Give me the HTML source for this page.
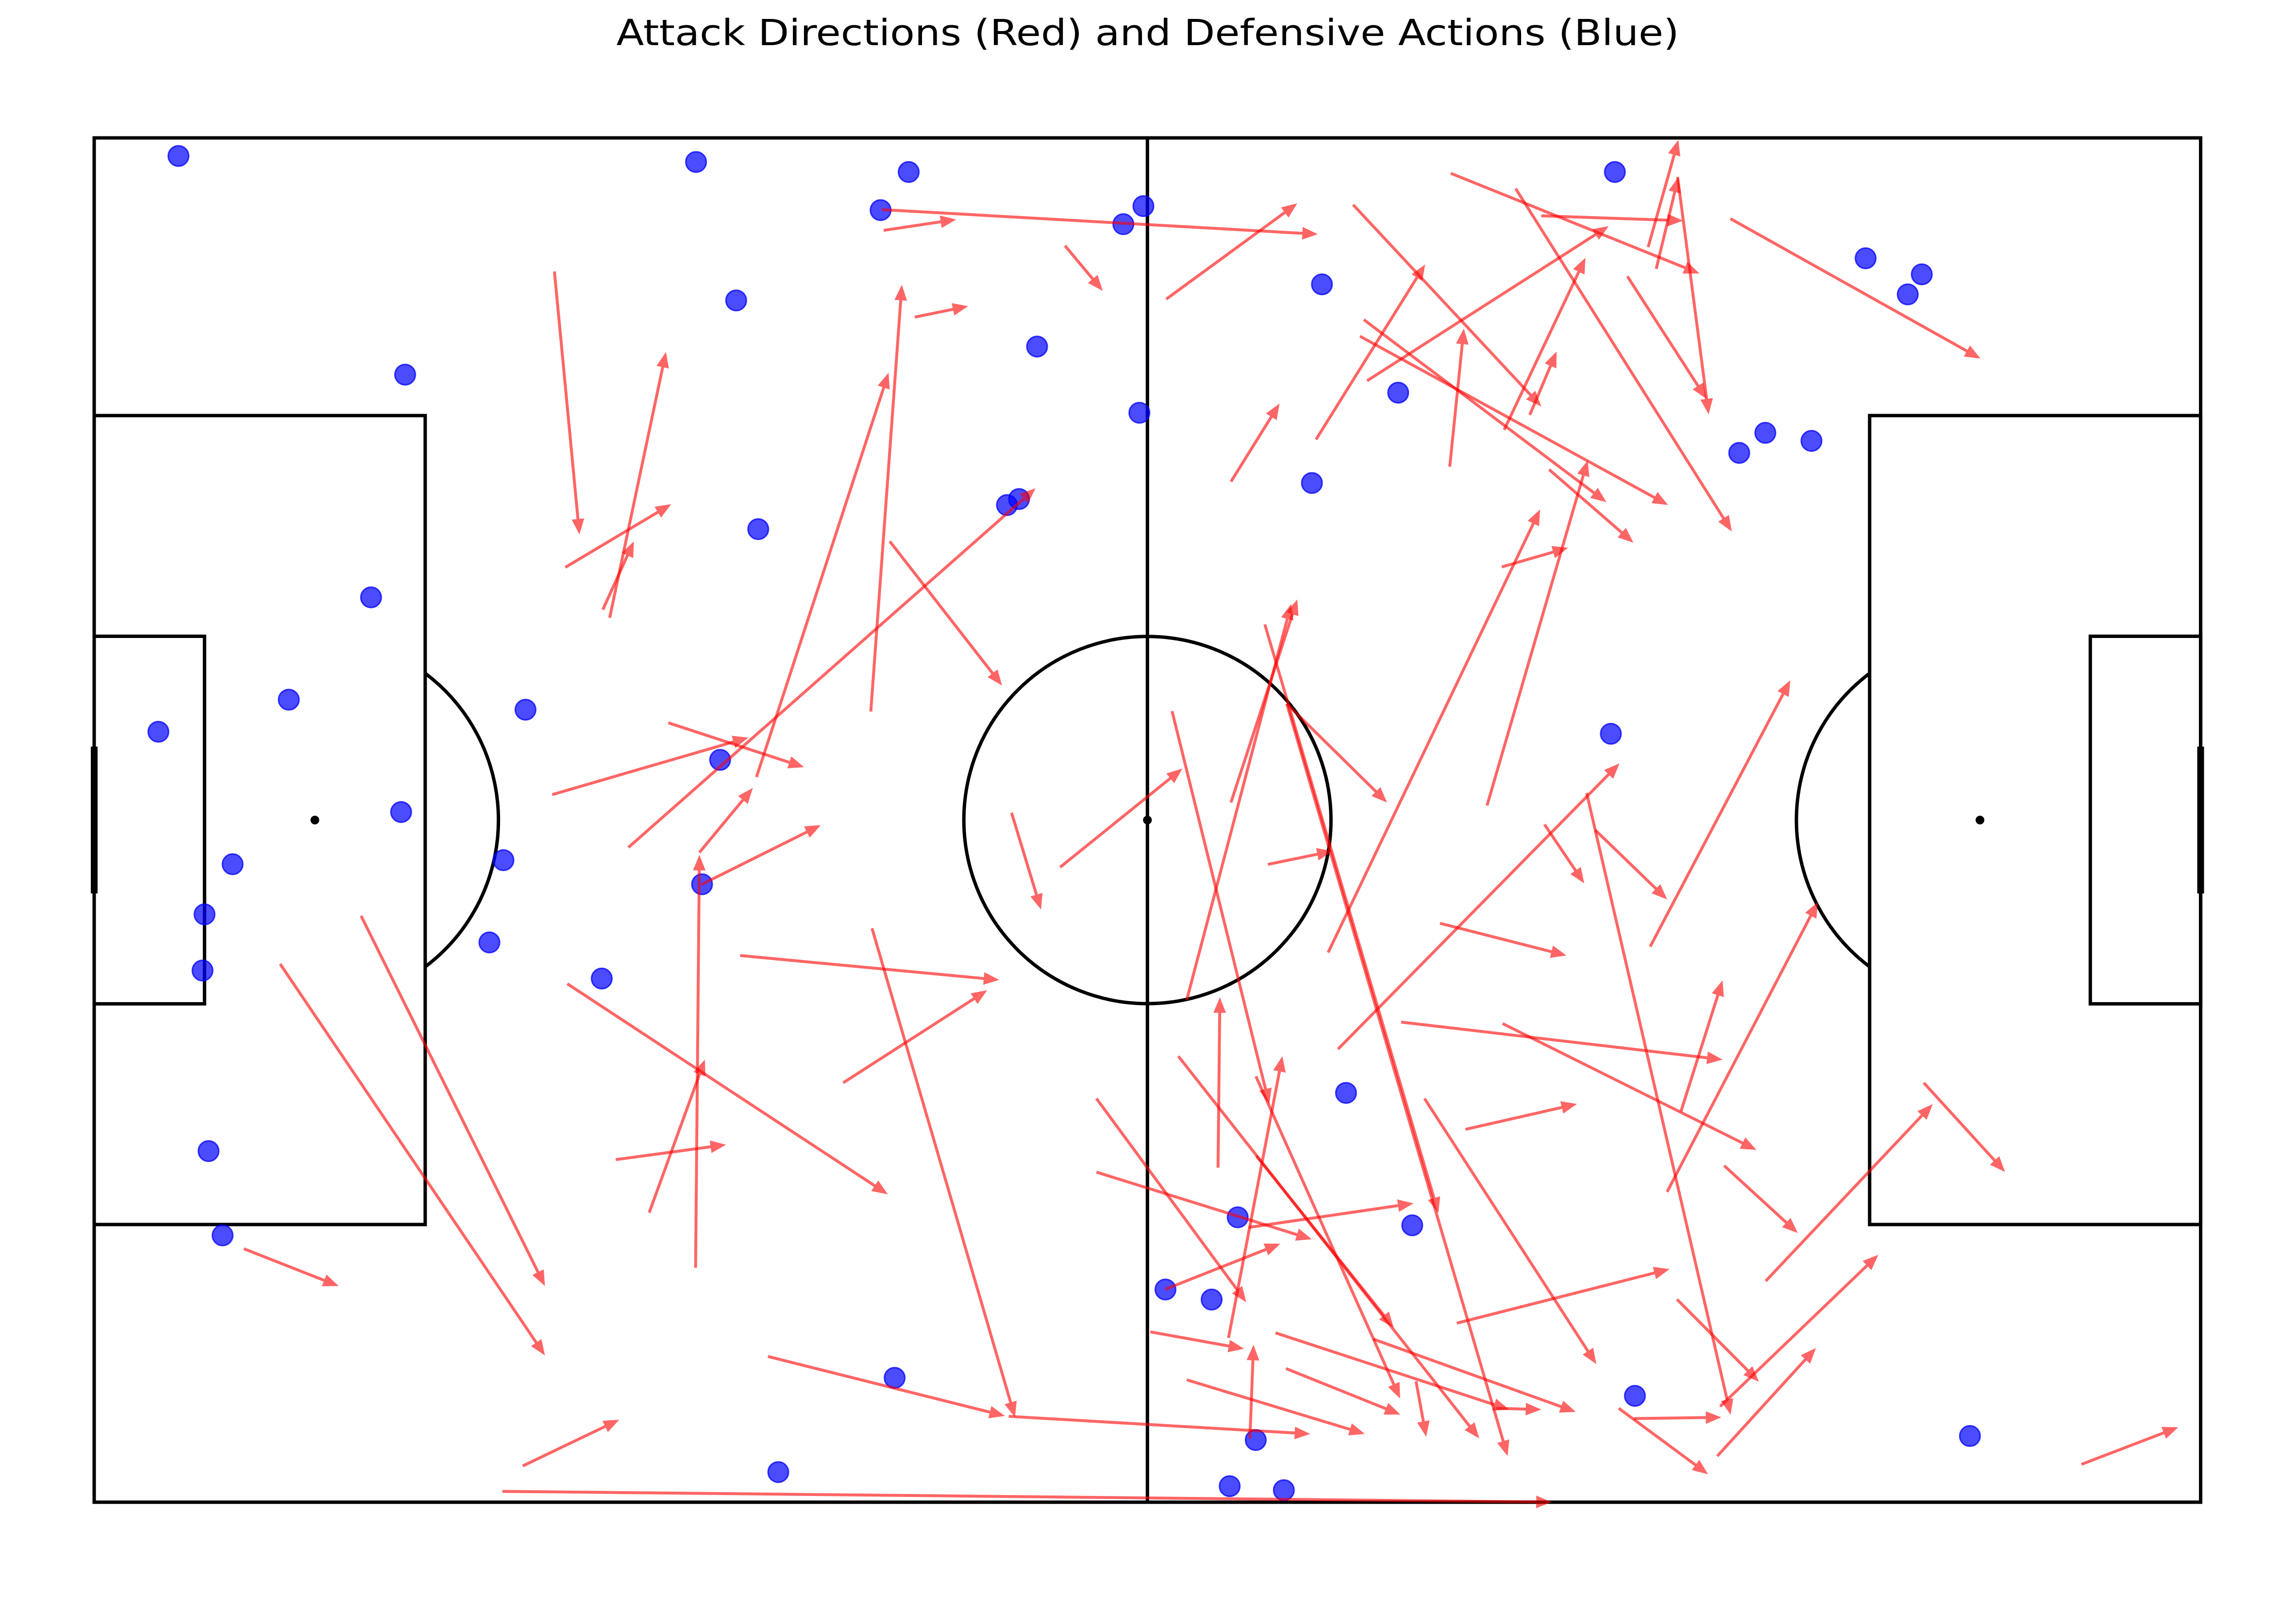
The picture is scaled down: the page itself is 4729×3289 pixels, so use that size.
<!DOCTYPE html>
<html><head><meta charset="utf-8"><style>
html,body{margin:0;padding:0;background:#fff;}
svg{display:block;}
</style></head>
<body>
<svg id="chart" xmlns="http://www.w3.org/2000/svg" width="4729" height="3289" viewBox="0 0 4729 3289">
<rect width="4729" height="3289" fill="#fff"/>
<text x="2364" y="93" text-anchor="middle" font-family="DejaVu Sans, Liberation Sans, sans-serif" font-size="74" textLength="2189" lengthAdjust="spacingAndGlyphs" fill="#000">Attack Directions (Red) and Defensive Actions (Blue)</text>
<g id="pitch" fill="none" stroke="#000" stroke-width="7"></g>
<g id="dots"></g>
<g id="arrows"></g>
</svg>
<script>
// Defensive actions (pitch metres, 105 x 68, y from top touchline)
const defX = [4.2,30.0,40.6,39.2,51.3,52.3,75.8,32.0,15.5,47.0,88.3,91.1,90.4,52.1,61.2,65.0,82.0,83.3,85.6,60.7,45.5,46.1,33.1,13.8,9.7,3.2,21.5,31.2,75.6,15.3,6.9,20.4,30.3,5.5,19.7,5.4,25.3,62.4,5.7,6.4,57.0,65.7,53.4,55.7,39.9,76.8,57.9,34.1,56.6,59.3,93.5];
const defY = [0.9,1.2,1.7,3.6,4.3,3.4,1.7,8.1,11.8,10.4,6.0,6.8,7.8,13.7,7.3,12.7,15.7,14.7,15.1,17.2,18.3,18.0,19.5,22.9,28.0,29.6,28.5,31.0,29.7,33.6,36.2,36.0,37.2,38.7,40.1,41.5,41.9,47.6,50.5,54.7,53.8,54.2,57.4,57.9,61.8,62.7,64.9,66.5,67.2,67.4,64.7];
// Attack directions: start and end (metres)
const atkX1 = [22.80,25.54,25.20,23.34,39.13,39.03,40.67,48.12,38.49,53.14,62.41,67.25,71.74,77.04,77.44,78.50,76.01,70.47,81.12,63.10,60.57,69.90,71.17,67.20,62.75,62.94,72.13,56.35,69.05,69.78,61.17,56.35,54.16,58.03,59.12,59.12,53.43,47.88,45.47,58.18,39.43,32.82,26.47,22.69,28.45,29.99,30.09,29.80,27.50,25.84,23.44,32.01,37.12,38.55,33.39,45.33,21.23,20.22,7.40,9.20,13.21,55.71,53.74,57.61,49.68,49.68,53.09,56.23,57.29,52.35,57.24,54.16,59.08,58.56,63.41,69.49,65.53,65.95,67.55,67.98,61.66,64.79,69.82,75.58,76.34,73.99,74.42,77.14,71.90,78.67,77.98,80.81,82.87,90.71,78.47,80.61,80.47,98.53,66.72,57.59];
const atkY1 = [6.59,23.76,23.36,21.26,4.55,3.52,8.85,5.31,28.41,7.96,3.28,1.72,3.83,5.38,6.46,1.90,6.83,2.48,3.97,12.01,14.92,14.44,13.70,16.27,9.80,8.98,16.41,17.01,33.07,21.24,40.36,32.92,42.70,24.09,28.03,28.03,28.39,36.13,33.43,35.99,19.97,31.66,35.15,32.53,28.97,35.40,36.99,55.99,53.26,50.63,41.91,40.51,46.82,39.16,60.39,63.36,65.82,67.08,55.05,40.93,38.54,51.03,45.50,50.44,47.60,51.25,57.06,59.47,64.45,59.17,53.99,61.55,60.99,59.22,59.53,62.96,61.62,47.60,58.74,49.13,45.15,43.81,43.88,62.96,63.47,32.45,34.29,40.07,34.01,48.23,52.23,50.93,56.65,46.82,57.56,62.87,65.33,65.74,38.91,46.50];
const atkX2 = [24.04,28.33,26.74,28.59,42.72,60.66,43.32,49.99,40.03,59.64,71.74,79.58,78.77,78.54,78.54,80.04,79.93,81.19,93.52,75.08,65.98,73.93,72.50,67.90,78.03,74.97,76.31,58.76,74.04,73.07,71.68,59.64,59.34,66.64,64.09,70.07,58.25,53.94,46.93,61.39,45.00,39.37,46.66,32.42,35.18,32.64,36.01,29.99,30.26,31.31,39.33,44.86,44.26,45.64,45.14,60.28,26.01,72.26,12.10,22.33,22.33,55.80,68.66,64.42,57.11,60.36,58.80,58.90,57.47,57.00,65.40,62.99,64.75,70.14,73.45,71.74,66.03,74.47,78.10,73.51,75.62,80.73,82.41,80.01,80.67,81.13,77.98,84.09,73.87,80.73,85.46,84.46,91.15,94.74,82.53,88.45,85.36,103.33,72.99,64.74];
const atkY2 = [19.63,10.58,19.97,18.13,4.01,4.74,8.31,7.55,7.25,3.21,13.28,6.69,4.07,0.06,1.90,13.67,12.91,19.48,10.91,4.34,6.24,5.91,10.56,9.42,18.17,18.03,20.04,13.14,15.96,20.29,18.39,22.85,23.07,53.28,32.92,65.33,47.88,31.24,38.23,35.33,27.12,11.61,17.34,29.70,31.17,32.20,34.04,35.52,45.67,49.89,52.35,41.72,42.23,63.41,63.34,64.23,63.53,67.61,56.90,60.34,56.90,42.58,64.45,58.96,57.70,54.58,54.80,45.50,59.81,60.01,52.80,64.23,63.27,63.02,63.14,63.02,64.37,60.77,56.06,47.87,30.98,45.67,50.15,66.23,63.41,63.28,37.73,26.86,36.93,41.74,37.85,54.27,47.88,51.24,61.64,55.35,59.97,63.90,40.51,62.48];

const NS = "http://www.w3.org/2000/svg";
const X0 = 194, Y0 = 284, S = 41.32;
function sx(m){ return X0 + m * S; }
function sy(m){ return Y0 + m * S; }
// arrow readings were taken with a slightly different display scale; calibrate
function ax(m){ return sx(m * 1.00514 + 0.024); }
function ay(m){ return sy(m * 1.00514 + 0.035); }
function mk(tag, attrs, parent){
  const e = document.createElementNS(NS, tag);
  for (const k in attrs) e.setAttribute(k, attrs[k]);
  parent.appendChild(e);
  return e;
}

// Pitch
const pg = document.getElementById('pitch');
let el;
el = mk('rect', {x:sx(0), y:sy(0), width:105*S, height:68*S}, pg);


el = mk('line', {x1:sx(52.5), y1:sy(0), x2:sx(52.5), y2:sy(68)}, pg);


el = mk('circle', {cx:sx(52.5), cy:sy(34), r:9.15*S}, pg);


el = mk('circle', {cx:sx(52.5), cy:sy(34), r:9, fill:'#000', stroke:'none'}, pg);


el = mk('rect', {x:sx(0), y:sy(13.84), width:16.5*S, height:40.32*S}, pg);


el = mk('rect', {x:sx(88.5), y:sy(13.84), width:16.5*S, height:40.32*S}, pg);


el = mk('rect', {x:sx(0), y:sy(24.84), width:5.5*S, height:18.32*S}, pg);


el = mk('rect', {x:sx(99.5), y:sy(24.84), width:5.5*S, height:18.32*S}, pg);


el = mk('circle', {cx:sx(11), cy:sy(34), r:9, fill:'#000', stroke:'none'}, pg);


el = mk('circle', {cx:sx(94), cy:sy(34), r:9, fill:'#000', stroke:'none'}, pg);


const R = 9.15*S, dyA = Math.sqrt(9.15*9.15-5.5*5.5);
el = mk('path', {d:`M ${sx(16.5)} ${sy(34-dyA)} A ${R} ${R} 0 0 1 ${sx(16.5)} ${sy(34+dyA)}`}, pg);


el = mk('path', {d:`M ${sx(88.5)} ${sy(34-dyA)} A ${R} ${R} 0 0 0 ${sx(88.5)} ${sy(34+dyA)}`}, pg);


el = mk('line', {x1:sx(0), y1:sy(30.34), x2:sx(0), y2:sy(37.66), 'stroke-width':14}, pg);


el = mk('line', {x1:sx(105), y1:sy(30.34), x2:sx(105), y2:sy(37.66), 'stroke-width':14}, pg);



// Defensive action dots
const dg = document.getElementById('dots');
for (let i = 0; i < defX.length; i++) {
  const c = mk('circle', {cx:sx(defX[i]), cy:sy(defY[i]), r:21, fill:'#0000ff', 'fill-opacity':0.7, stroke:'#0000ff', 'stroke-opacity':0.75, 'stroke-width':3}, dg);
  
  
}

// Attack arrows
const ag = document.getElementById('arrows');
for (let i = 0; i < atkX1.length; i++) {
  const x1 = ax(atkX1[i]), y1 = ay(atkY1[i]), x2 = ax(atkX2[i]), y2 = ay(atkY2[i]);
  const dx = x2-x1, dy = y2-y1, L = Math.hypot(dx,dy) || 1;
  const ux = dx/L, uy = dy/L, px = -uy, py = ux;
  const hl = 32, hw = 13;
  const bx = x2-ux*hl, by = y2-uy*hl;
  const g = mk('g', {opacity:0.6}, ag);
  
  
  mk('line', {x1:x1, y1:y1, x2:bx+ux*4, y2:by+uy*4, stroke:'#ff0000', 'stroke-width':6}, g);
  mk('polygon', {points:`${x2},${y2} ${bx+px*hw},${by+py*hw} ${bx-px*hw},${by-py*hw}`, fill:'#ff0000'}, g);
}
</script>
</body></html>
